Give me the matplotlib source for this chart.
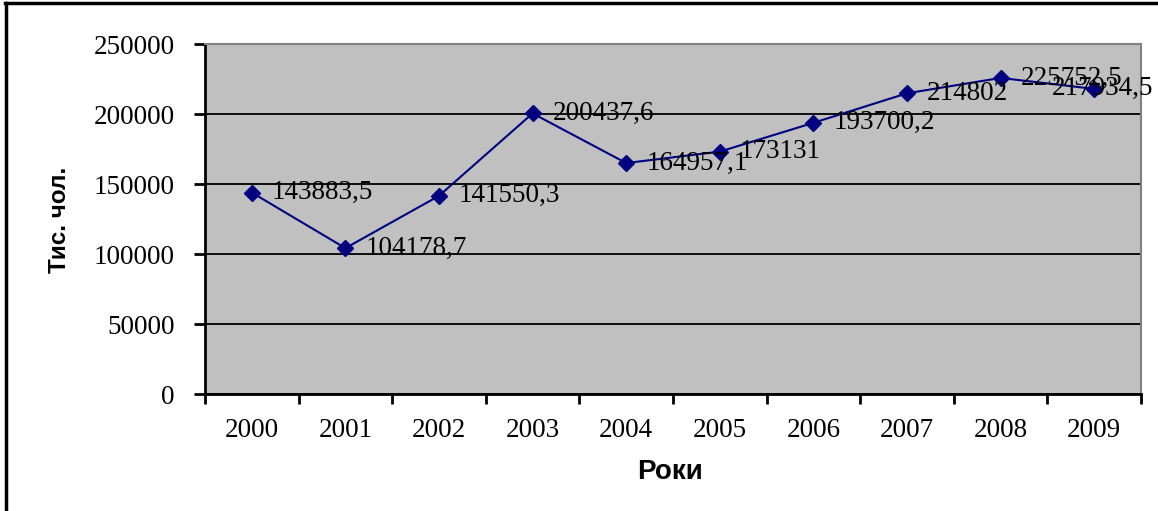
import matplotlib
matplotlib.use("Agg")
import matplotlib.pyplot as plt
from matplotlib.lines import Line2D
import numpy as np

years = ["2000", "2001", "2002", "2003", "2004", "2005", "2006", "2007", "2008", "2009"]
values = [143883.5, 104178.7, 141550.3, 200437.6, 164957.1, 173131, 193700.2, 214802, 225752.5, 217934.5]
labels = ["143883,5", "104178,7", "141550,3", "200437,6", "164957,1", "173131", "193700,2", "214802", "225752,5", "217934,5"]
yticks = [0, 50000, 100000, 150000, 200000, 250000]

W, H = 1158, 511
fig = plt.figure(figsize=(W / 100, H / 100), dpi=100)
fig.patch.set_facecolor("white")

L, R, T, B = 205, 1141, 44, 394
ax = fig.add_axes([L / W, 1 - B / H, (R - L) / W, (B - T) / H])
ax.set_facecolor("#C0C0C0")

serif = "Liberation Serif"
fs = 19.5

x = np.arange(len(years))
ax.plot(x, values, color="#000080", lw=1.5, marker="D", markersize=8,
        markerfacecolor="#000080", markeredgecolor="#000080", zorder=5, clip_on=False)
for i, (xi, v, lab) in enumerate(zip(x, values, labels)):
    dx = 20 if i < len(years) - 1 else -42  # last label pulled left to stay inside the chart
    ax.annotate(lab, (xi, v), xytext=(dx, 0), textcoords="offset pixels",
                ha="left", va="center", fontsize=fs, family=serif, color="black",
                annotation_clip=False, zorder=6)

ax.set_xlim(-0.5, len(years) - 0.5)
ax.set_ylim(0, 250000)

ax.set_yticks(yticks)
ax.set_yticklabels([str(t) for t in yticks], fontsize=fs, family=serif)
ax.tick_params(axis="y", direction="out", length=8, width=2, pad=14, colors="black")

ax.set_xticks(np.arange(-0.5, len(years), 1.0))
ax.set_xticklabels([])
ax.set_xticks(x, minor=True)
ax.set_xticklabels(years, minor=True, fontsize=fs, family=serif)
ax.tick_params(axis="x", which="major", direction="out", length=7, width=2)
ax.tick_params(axis="x", which="minor", length=0, pad=17)

ax.yaxis.grid(True, color="black", lw=1.3)
ax.set_axisbelow(True)
ax.get_ygridlines()[-1].set_visible(False)

for s in ["left", "bottom"]:
    ax.spines[s].set_color("black")
    ax.spines[s].set_linewidth(2)
for s in ["top", "right"]:
    ax.spines[s].set_color("#808080")
    ax.spines[s].set_linewidth(1.5)

fig.text(60 / W, 1 - 220 / H, "Тис. чол.", rotation=90, ha="center", va="center",
         fontsize=17.5, fontweight="bold", family="Liberation Sans")
fig.text(670 / W, 1 - 472 / H, "Роки", ha="center", va="center",
         fontsize=20, fontweight="bold", family="Liberation Sans")

# outer chart frame (top and left edges visible)
fig.add_artist(Line2D([5 / W, 1.0], [1 - 3.5 / H, 1 - 3.5 / H], transform=fig.transFigure,
                      color="black", lw=2.5))
fig.add_artist(Line2D([5.5 / W, 5.5 / W], [0, 1 - 3.5 / H], transform=fig.transFigure,
                      color="black", lw=2.5))

fig.savefig("out.png", dpi=100)
